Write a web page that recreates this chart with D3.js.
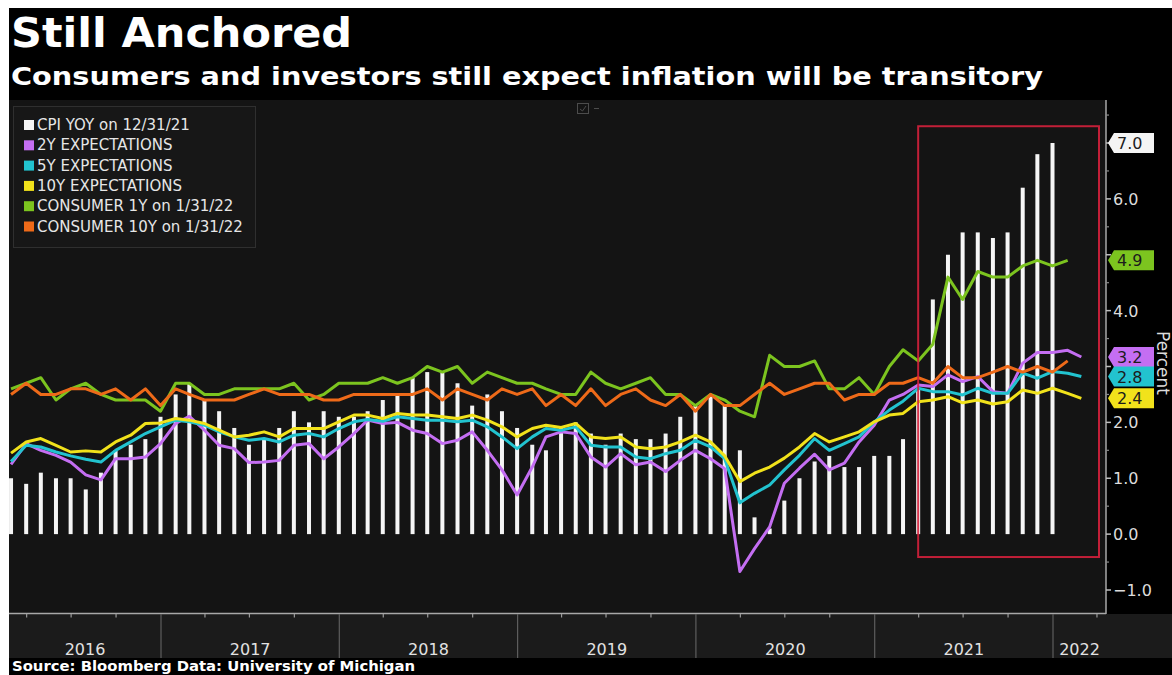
<!DOCTYPE html>
<html><head><meta charset="utf-8">
<script src="https://cdn.jsdelivr.net/npm/d3@7"></script>
<style>html,body{margin:0;padding:0;background:#fff;} svg{display:block;}</style>
</head><body>
<svg id="c" width="1172" height="675"></svg>
<script>
// ---------------- DATA ----------------
const titleText = "Still Anchored";
const subtitleText = "Consumers and investors still expect inflation will be transitory";
const sourceText = "Source: Bloomberg Data: University of Michigan";
const axisTitle = "Percent";

// Monthly series (month-end). All start Feb 2016.
const seriesStart = [2016, 1]; // year, month index (Feb)

const cpiYoY = [1.0,0.9,1.1,1.0,1.0,0.8,1.1,1.5,1.6,1.7,2.1,
  2.5,2.7,2.4,2.2,1.9,1.6,1.7,1.9,2.2,2.0,2.2,2.1,
  2.1,2.2,2.4,2.5,2.8,2.9,2.9,2.7,2.3,2.5,2.2,1.9,
  1.6,1.5,1.9,2.0,1.8,1.6,1.8,1.7,1.7,1.8,2.1,2.3,
  2.5,2.3,1.5,0.3,0.1,0.6,1.0,1.3,1.4,1.2,1.2,1.4,
  1.4,1.7,2.6,4.2,5.0,5.4,5.4,5.3,5.4,6.2,6.8,7.0];

const exp2Y = [1.25,1.62,1.50,1.41,1.29,1.06,0.97,1.35,1.35,1.38,1.62,
  1.98,2.11,1.86,1.59,1.53,1.28,1.29,1.32,1.59,1.62,1.35,1.56,
  1.80,2.04,1.98,2.00,1.86,1.80,1.62,1.68,1.83,1.50,1.15,0.70,
  1.20,1.74,1.83,1.80,1.38,1.20,1.44,1.24,1.29,1.12,1.32,1.50,
  1.35,1.17,-0.67,-0.26,0.13,0.91,1.18,1.43,1.15,1.27,1.65,1.95,
  2.40,2.50,2.67,2.64,2.85,2.73,2.82,2.55,2.52,3.06,3.25,3.25,
  3.29,3.17];

const exp5Y = [1.30,1.59,1.56,1.47,1.40,1.34,1.29,1.50,1.65,1.80,1.92,
  2.04,2.01,1.95,1.83,1.74,1.68,1.71,1.65,1.77,1.80,1.74,1.89,
  2.01,2.05,2.02,2.10,2.07,2.04,2.04,2.01,2.04,1.92,1.74,1.53,
  1.74,1.89,1.86,1.92,1.59,1.56,1.56,1.38,1.35,1.44,1.50,1.68,
  1.56,1.35,0.56,0.73,0.88,1.15,1.41,1.71,1.50,1.62,1.74,2.01,
  2.22,2.38,2.61,2.55,2.55,2.49,2.61,2.52,2.52,2.88,2.79,2.91,
  2.88,2.82];

const exp10Y = [1.45,1.65,1.71,1.59,1.47,1.49,1.47,1.65,1.77,1.98,1.99,
  2.07,2.04,1.98,1.86,1.74,1.77,1.83,1.74,1.89,1.89,1.89,2.01,
  2.13,2.13,2.07,2.16,2.13,2.13,2.10,2.07,2.13,2.04,1.92,1.74,
  1.89,1.95,1.91,1.98,1.74,1.71,1.74,1.56,1.53,1.56,1.65,1.77,
  1.65,1.40,0.94,1.09,1.20,1.36,1.56,1.80,1.65,1.74,1.83,2.01,
  2.13,2.16,2.37,2.40,2.46,2.35,2.40,2.33,2.37,2.58,2.52,2.61,
  2.52,2.43];

const consumer1Y = [2.6,2.7,2.8,2.4,2.6,2.7,2.5,2.4,2.4,2.4,2.2,
  2.7,2.7,2.5,2.5,2.6,2.6,2.6,2.6,2.7,2.4,2.5,2.7,
  2.7,2.7,2.8,2.7,2.8,3.0,2.9,3.0,2.7,2.9,2.8,2.7,
  2.7,2.6,2.5,2.5,2.9,2.7,2.6,2.7,2.8,2.5,2.5,2.3,
  2.5,2.4,2.2,2.1,3.2,3.0,3.0,3.1,2.6,2.6,2.8,2.5,
  3.0,3.3,3.1,3.4,4.6,4.2,4.7,4.6,4.6,4.8,4.9,4.8,
  4.9];

const consumer10Y = [2.5,2.7,2.5,2.5,2.6,2.6,2.5,2.6,2.4,2.6,2.3,
  2.6,2.5,2.4,2.4,2.4,2.5,2.6,2.5,2.5,2.5,2.4,2.4,
  2.5,2.5,2.5,2.5,2.5,2.6,2.4,2.6,2.5,2.4,2.6,2.5,
  2.6,2.3,2.5,2.3,2.6,2.3,2.5,2.6,2.4,2.3,2.5,2.2,
  2.5,2.3,2.3,2.5,2.7,2.5,2.6,2.7,2.7,2.4,2.5,2.5,
  2.7,2.7,2.8,2.7,3.0,2.8,2.8,2.9,3.0,2.9,3.0,2.9,
  3.1];

const legendLabels = ["CPI YOY on 12/31/21","2Y EXPECTATIONS","5Y EXPECTATIONS","10Y EXPECTATIONS","CONSUMER 1Y on 1/31/22","CONSUMER 10Y on 1/31/22"];
const legendColors = ["#f4f4f4","#c46ef2","#22c3cf","#f1e21b","#7cc41f","#ee6a19"];
const yTicks = [-1,0,1,2,3,4,5,6,7];
const yMinorTicks = [-0.5,0.5,1.5,2.5,3.5,4.5,5.5,6.5,7.5];
const yearLabels = [2016,2017,2018,2019,2020,2021,2022];
// highlight box: from end of Mar 2021, value range -0.4 .. 7.3
const highlightStart = [2021, 2, 31];
const highlightRange = [-0.41, 7.3];

// ---------------- LAYOUT ----------------
const svg = d3.select("#c");
const panel = {x0: 9, x1: 1106, y0: 100, y1: 614};
const band = {y0: 614, y1: 658};

const x = d3.scaleTime()
  .domain([new Date(2017,0,1), new Date(2022,0,1)])
  .range([161, 1053]);
const y = d3.scaleLinear().domain([-1, 7]).range([590, 143]);

const monthEnds = n => d3.range(n).map(i => new Date(seriesStart[0], seriesStart[1] + i + 1, 0));
const toPts = arr => { const d = monthEnds(arr.length); return arr.map((v,i)=>({date:d[i], v})); };

// background
svg.append("rect").attr("x",9).attr("y",8).attr("width",1163).attr("height",667).attr("fill","#000");
svg.append("rect").attr("x",panel.x0).attr("y",panel.y0).attr("width",panel.x1-panel.x0).attr("height",panel.y1-panel.y0).attr("fill","#141414");
svg.append("rect").attr("x",panel.x0).attr("y",band.y0).attr("width",1172-panel.x0).attr("height",band.y1-band.y0).attr("fill","#1b1b1b");

// titles
svg.append("text").attr("x",11).attr("y",47).text(titleText)
  .attr("font-family","DejaVu Sans").attr("font-weight","bold").attr("font-size",40)
  .attr("fill","#fff").attr("textLength",341).attr("lengthAdjust","spacingAndGlyphs");
svg.append("text").attr("x",11).attr("y",85).text(subtitleText)
  .attr("font-family","DejaVu Sans").attr("font-weight","bold").attr("font-size",25)
  .attr("fill","#fff").attr("textLength",1032).attr("lengthAdjust","spacingAndGlyphs");

// clip
svg.append("clipPath").attr("id","clip").append("rect")
  .attr("x",panel.x0).attr("y",panel.y0).attr("width",panel.x1-panel.x0).attr("height",panel.y1-panel.y0);
const plot = svg.append("g").attr("clip-path","url(#clip)");

// bars
plot.append("g").selectAll("rect").data(toPts(cpiYoY)).join("rect")
  .attr("x", d => x(d.date) - 2).attr("width", 4)
  .attr("y", d => Math.min(y(d.v), y(0))).attr("height", d => Math.abs(y(0) - y(d.v)))
  .attr("fill", legendColors[0]);

// lines
const line = d3.line().x(d => x(d.date)).y(d => y(d.v));
const lineSeries = [exp2Y, exp5Y, exp10Y, consumer1Y, consumer10Y];
lineSeries.forEach((s,i) => {
  plot.append("path").datum(toPts(s)).attr("d", line)
    .attr("fill","none").attr("stroke", legendColors[i+1]).attr("stroke-width",3)
    .attr("stroke-linejoin","round");
});

// highlight box
const hx0 = x(new Date(...highlightStart));
svg.append("rect").attr("x", hx0).attr("y", y(highlightRange[1]))
  .attr("width", 1099 - hx0).attr("height", y(highlightRange[0]) - y(highlightRange[1]))
  .attr("fill","none").attr("stroke","#d5203c").attr("stroke-width",2).attr("opacity",0.9);

// axes lines
svg.append("line").attr("x1",panel.x0).attr("x2",panel.x1).attr("y1",613.5).attr("y2",613.5).attr("stroke","#a8a8a8").attr("stroke-width",1.5);
svg.append("line").attr("x1",panel.x1).attr("x2",panel.x1).attr("y1",panel.y0).attr("y2",614).attr("stroke","#a8a8a8").attr("stroke-width",1.5);

// x axis: quarter ticks, year separators, labels
const dStart = x.invert(panel.x0), dEnd = x.invert(panel.x1);
const quarters = d3.timeMonth.every(3).range(dStart, dEnd).filter(d => d.getMonth() !== 0);
svg.append("g").selectAll("line").data(quarters).join("line")
  .attr("x1", d => x(d)).attr("x2", d => x(d)).attr("y1",614).attr("y2",617.5)
  .attr("stroke","#9a9a9a").attr("stroke-width",1.2);
const years = d3.timeYear.range(dStart, dEnd);
svg.append("g").selectAll("line").data(years).join("line")
  .attr("x1", d => x(d)).attr("x2", d => x(d)).attr("y1",614).attr("y2",band.y1)
  .attr("stroke","#5e5e5e").attr("stroke-width",1.2);
svg.append("g").selectAll("text").data(yearLabels).join("text")
  .attr("x", yr => (Math.max(panel.x0, x(new Date(yr,0,1))) + Math.min(panel.x1, x(new Date(yr+1,0,1)))) / 2)
  .attr("y", 655).attr("text-anchor","middle")
  .attr("font-family","DejaVu Sans").attr("font-size",16).attr("fill","#e2e2e2")
  .text(d => d);

// y axis (right)
const tags = [
  {v: cpiYoY[cpiYoY.length-1], c: legendColors[0]},
  {v: consumer1Y[consumer1Y.length-1], c: legendColors[4]},
  {v: exp2Y[exp2Y.length-1], c: legendColors[1]},
  {v: exp5Y[exp5Y.length-1], c: legendColors[2]},
  {v: exp10Y[exp10Y.length-1], c: legendColors[3]}
];
const fmt = d3.format(".1f");
svg.append("g").selectAll("line").data(yTicks).join("line")
  .attr("x1",panel.x1).attr("x2",panel.x1+5).attr("y1",d=>y(d)).attr("y2",d=>y(d))
  .attr("stroke","#bdbdbd").attr("stroke-width",1.5);
svg.append("g").selectAll("line").data(yMinorTicks).join("line")
  .attr("x1",panel.x1).attr("x2",panel.x1+3).attr("y1",d=>y(d)).attr("y2",d=>y(d))
  .attr("stroke","#8a8a8a").attr("stroke-width",1.2);
const visibleTicks = yTicks.filter(t => !tags.some(g => Math.abs(y(g.v) - y(t)) < 12));
svg.append("g").selectAll("text").data(visibleTicks).join("text")
  .attr("x", panel.x1 + 7).attr("y", d => y(d) + 6)
  .attr("font-family","DejaVu Sans").attr("font-size",16).attr("fill","#dcdcdc")
  .text(d => fmt(d));
svg.append("text").attr("transform",`translate(1157,363) rotate(90)`).attr("text-anchor","middle")
  .attr("font-family","DejaVu Sans").attr("font-size",17).attr("fill","#dcdcdc").text(axisTitle);

// value tags
const tg = svg.append("g").selectAll("g").data(tags).join("g")
  .attr("transform", d => `translate(${panel.x1 + 2},${y(d.v)})`);
tg.append("path").attr("d","M0,0 L6,-10 L46,-10 L46,10 L6,10 Z").attr("fill", d => d.c);
tg.append("text").attr("x",9).attr("y",6).attr("font-family","DejaVu Sans").attr("font-size",16)
  .attr("fill","#1c1c1c").text(d => fmt(d.v));

// legend
svg.append("rect").attr("x",13.5).attr("y",106.5).attr("width",242).attr("height",141)
  .attr("fill","#171717").attr("stroke","#2f2f2f");
const lg = svg.append("g").selectAll("g").data(legendLabels).join("g")
  .attr("transform",(d,i)=>`translate(24,${130 + i*20.3})`);
lg.append("rect").attr("x",0).attr("y",-10).attr("width",10).attr("height",10)
  .attr("fill",(d,i)=>legendColors[i]);
lg.append("text").attr("x",13).attr("y",0).attr("font-family","DejaVu Sans").attr("font-size",15)
  .attr("fill","#e6e6e6").text(d=>d);

// small toolbar icon
const ic = svg.append("g").attr("stroke","#4c4c4c").attr("fill","none").attr("stroke-width",1);
ic.append("rect").attr("x",577.5).attr("y",103.5).attr("width",11).attr("height",10);
ic.append("path").attr("d","M580,109 L582.5,111 L586,106");
ic.append("line").attr("x1",594).attr("x2",599).attr("y1",108.5).attr("y2",108.5);

// source
svg.append("text").attr("x",12).attr("y",671).text(sourceText)
  .attr("font-family","DejaVu Sans").attr("font-weight","bold").attr("font-size",13.5)
  .attr("fill","#fff").attr("textLength",403).attr("lengthAdjust","spacingAndGlyphs");
</script>
</body></html>
